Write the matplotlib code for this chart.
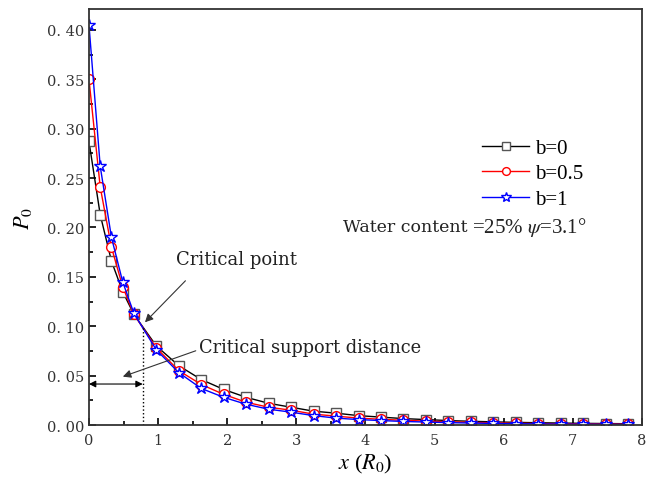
import numpy as np
import matplotlib
matplotlib.use("Agg")
import matplotlib.pyplot as plt
from matplotlib.ticker import MultipleLocator, FuncFormatter

plt.rcParams["font.family"] = ["Liberation Serif", "DejaVu Serif"]
plt.rcParams["mathtext.fontset"] = "stix"

# distance from face (in R0)
x = [0, 0.1625, 0.325, 0.4875, 0.65, 0.975, 1.3, 1.625, 1.95, 2.275, 2.6, 2.925,
     3.25, 3.575, 3.9, 4.225, 4.55, 4.875, 5.2, 5.525, 5.85, 6.175, 6.5, 6.825,
     7.15, 7.475, 7.8]

p_b0 = [0.287, 0.213, 0.166, 0.135, 0.112, 0.080, 0.060, 0.046, 0.036, 0.028, 0.022,
        0.018, 0.014, 0.012, 0.0095, 0.008, 0.0065, 0.0055, 0.0045, 0.0038, 0.0032,
        0.0027, 0.0023, 0.002, 0.0017, 0.0015, 0.0013]
p_b05 = [0.350, 0.241, 0.180, 0.140, 0.112, 0.078, 0.055, 0.041, 0.031, 0.023, 0.018,
         0.015, 0.011, 0.009, 0.007, 0.0058, 0.0048, 0.004, 0.0033, 0.0027, 0.0022,
         0.0018, 0.0015, 0.0013, 0.0011, 0.001, 0.0009]
p_b1 = [0.405, 0.262, 0.190, 0.145, 0.113, 0.076, 0.053, 0.037, 0.028, 0.021, 0.016,
        0.013, 0.0095, 0.007, 0.0055, 0.0045, 0.0036, 0.003, 0.0024, 0.002, 0.0016,
        0.0013, 0.0011, 0.0009, 0.0008, 0.0007, 0.0006]

labels = ["b=0", "b=0.5", "b=1"]
colors = ["black", "red", "blue"]
markers = ["s", "o", "*"]

crit_x = 0.777
crit_y = 0.104

WIDE = "DejaVu Serif"

fig = plt.figure(figsize=(6.61, 4.81), dpi=100)
ax = fig.add_axes([0.1346, 0.1143, 0.8366, 0.8647])

for ys, lab, c, m in zip([p_b0, p_b05, p_b1], labels, colors, markers):
    ms = 9 if m == "*" else 7
    ax.plot(x, ys, color=c, lw=1.0, marker=m, ms=ms, mfc="white",
            mec=c if c != "black" else "#555555", mew=1.0, label=lab)

# critical support distance markers
ax.plot([crit_x, crit_x], [0, 0.10], color="black", ls=":", lw=1.0)
ax.annotate("", xy=(0, 0.0415), xytext=(crit_x, 0.0415),
            arrowprops=dict(arrowstyle="<|-|>", color="black", lw=0.8,
                            mutation_scale=10, shrinkA=0, shrinkB=0))
ax.annotate("Critical point", xy=(0.81, crit_y), xytext=(1.26, 0.168),
            fontsize=13, family=WIDE, color="#222222", va="center", ha="left",
            arrowprops=dict(arrowstyle="-|>", color="#333333", lw=0.8,
                            mutation_scale=12, shrinkA=10, shrinkB=0,
                            relpos=(0.18, 0)))
ax.annotate("Critical support distance", xy=(0.49, 0.049), xytext=(1.585, 0.079),
            fontsize=12.8, family=WIDE, color="#222222", va="center", ha="left",
            arrowprops=dict(arrowstyle="-|>", color="#333333", lw=0.8,
                            mutation_scale=12, shrinkA=0, shrinkB=0,
                            relpos=(-0.01, 0.3)))

ax.text(0.4593, 0.478, "Water content", transform=ax.transAxes, family=WIDE,
        fontsize=12.5, color="#222222", ha="left", va="center")
ax.text(0.6926, 0.478, r"=25% $\psi$=3.1°", transform=ax.transAxes,
        fontsize=15, color="#222222", ha="left", va="center")

ax.legend(loc="upper left", bbox_to_anchor=(0.7107, 0.689), frameon=False,
          fontsize=15, handlelength=2.26, handletextpad=0.3, labelspacing=0.28,
          borderaxespad=0, borderpad=0, markerscale=0.8)

ax.set_xlim(0, 8)
ax.set_ylim(0, 0.421)
ax.xaxis.set_major_locator(MultipleLocator(1))
ax.xaxis.set_minor_locator(MultipleLocator(0.5))
ax.yaxis.set_major_locator(MultipleLocator(0.05))
ax.yaxis.set_minor_locator(MultipleLocator(0.025))
ax.yaxis.set_major_formatter(FuncFormatter(lambda v, _: f"{v:.2f}".replace(".", ". ")))
ax.tick_params(which="both", direction="in", top=False, right=False,
               labelsize=10.5, width=1.2, labelcolor="#333333")
ax.tick_params(which="major", length=5)
ax.tick_params(which="minor", length=3)
ax.tick_params(axis="x", pad=6)
for lbl in ax.get_xticklabels() + ax.get_yticklabels():
    lbl.set_family(WIDE)
for s in ax.spines.values():
    s.set_linewidth(1.3)
    s.set_color("#333333")

ax.set_xlabel(r"$x$ ($R_{\mathrm{0}}$)", fontsize=16, labelpad=3)
ax.set_ylabel(r"$P_{\mathit{0}}$", fontsize=16, labelpad=9)

fig.savefig("out.png", dpi=100)
